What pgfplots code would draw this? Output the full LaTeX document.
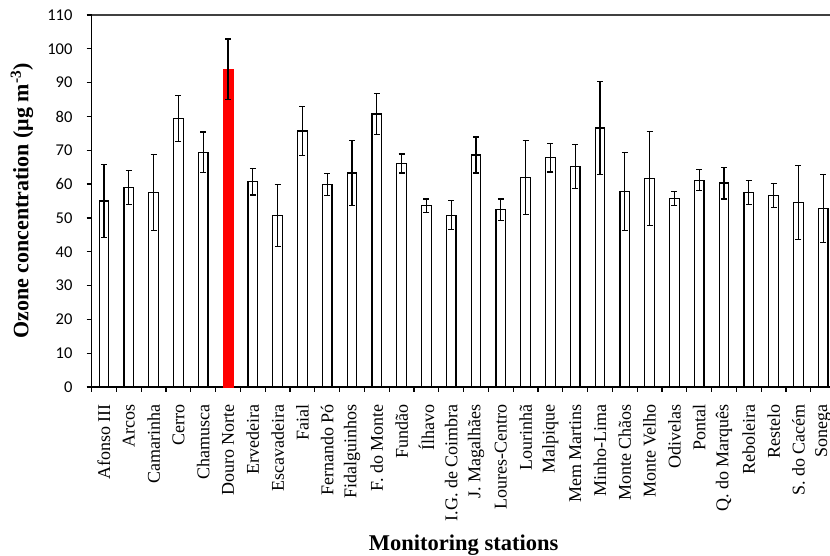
\documentclass[border=0pt]{standalone}
\usepackage{fontspec}
\setmainfont{Liberation Serif}
\newfontfamily\carlito{Carlito}
\usepackage{pgfplots}
\usepackage{pgfplotstable}
\pgfplotsset{compat=1.18}

\pgfplotstableread{
x y err
0 55.0 10.8
1 59.0 5.0
2 57.5 11.2
3 79.4 6.7
4 69.4 6.0
6 60.7 3.9
7 50.7 9.2
8 75.7 7.2
9 59.9 3.2
10 63.3 9.7
11 80.7 6.0
12 66.1 2.8
13 53.6 2.0
14 50.8 4.3
15 68.6 5.3
16 52.4 3.2
17 62.0 11.0
18 67.8 4.2
19 65.3 6.5
20 76.6 13.7
21 57.8 11.6
22 61.6 13.9
23 55.7 2.1
24 61.1 3.1
25 60.3 4.7
26 57.5 3.6
27 56.6 3.6
28 54.5 11.0
29 52.8 10.0
}\white

\pgfplotstableread{
x y err
5 94.0 8.9
}\red

\begin{document}
\begin{tikzpicture}
\useasboundingbox (0,0) rectangle (830pt,556pt);
\begin{axis}[
  at={(91.6pt,169pt)}, anchor=south west,
  scale only axis,
  width=738.3pt, height=372pt,
  xmin=-0.5, xmax=29.27,
  ymin=0, ymax=110,
  axis x line=bottom, axis y line=left,
  x axis line style={-, line width=1.8pt, black},
  y axis line style={-, line width=1.3pt, black},
  ytick={0,10,...,110},
  xtick={0,...,29},
  xticklabels={{Afonso III},{Arcos},{Camarinha},{Cerro},{Chamusca},{Douro Norte},{Ervedeira},{Escavadeira},{Faial},{Fernando Pó},{Fidalguinhos},{F. do Monte},{Fundão},{Ílhavo},{I.G. de Coimbra},{J. Magalhães},{Loures-Centro},{Lourinhã},{Malpique},{Mem Martins},{Minho-Lima},{Monte Chãos},{Monte Velho},{Odivelas},{Pontal},{Q. do Marquês},{Reboleira},{Restelo},{S. do Cacém},{Sonega}},
  minor xtick={-0.5,0.5,...,29.5},
  tick align=outside,
  x tick style={draw=none},
  minor x tick style={draw=black, line width=1.2pt},
  minor tick length=5pt,
  y tick style={black, line width=1.2pt},
  major tick length=5pt,
  xticklabel style={rotate=90, anchor=east, inner sep=0pt, font=\fontsize{18}{18}\selectfont, xshift=-12pt},
  yticklabel style={anchor=east, inner sep=0pt, font=\carlito\fontsize{16.5}{16.5}\selectfont, xshift=-14pt},
  /pgf/number format/assume math mode=true,
  xlabel={\textbf{Monitoring stations}},
  xlabel style={at={(axis cs:14.5,0)}, anchor=center, yshift=-158pt, font=\fontsize{22.5}{22.5}\selectfont},
  ylabel={\textbf{Ozone concentration (μg m\textsuperscript{-3})}},
  ylabel style={at={(axis description cs:0,0.5)}, anchor=center, yshift=69.6pt, font=\fontsize{22}{22}\selectfont},
  clip=false,
]
\draw[line width=1.2pt, black!75] (rel axis cs:0,1) -- (rel axis cs:1,1);
\addplot[ybar, bar width=9.6pt, bar shift=0pt, draw=black, line width=1.2pt, fill=white,
  error bars/.cd, y dir=both, y explicit,
  error bar style={line width=1.2pt, black},
  error mark options={rotate=90, mark size=3pt, line width=1.2pt, black}]
  table[x=x, y=y, y error=err] {\white};
\addplot[ybar, bar width=10.6pt, bar shift=0pt, draw=red, line width=0.2pt, fill=red,
  error bars/.cd, y dir=both, y explicit,
  error bar style={line width=1.2pt, black},
  error mark options={rotate=90, mark size=3pt, line width=1.2pt, black}]
  table[x=x, y=y, y error=err] {\red};
\end{axis}
\end{tikzpicture}
\end{document}
